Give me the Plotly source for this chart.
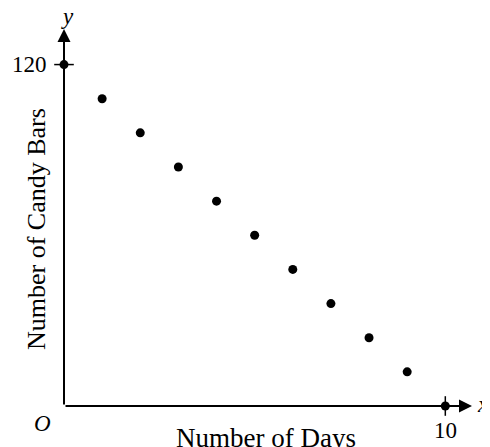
import plotly.graph_objects as go

days = [1, 2, 3, 4, 5, 6, 7, 8, 9]
candy_bars = [108, 96, 84, 72, 60, 48, 36, 24, 12]
axis_points_x = [0, 10]
axis_points_y = [120, 0]

X_MAX = 10.7
Y_MAX = 132.5
FONT = "Liberation Serif, Times New Roman, serif"

fig = go.Figure()

fig.add_trace(go.Scatter(
    x=days, y=candy_bars, mode="markers",
    marker=dict(color="black", size=9),
    showlegend=False, cliponaxis=False
))
# marked points on the axes, with little cross ticks
fig.add_trace(go.Scatter(
    x=axis_points_x, y=axis_points_y, mode="markers",
    marker=dict(color="black", size=14, symbol=["line-ew-open", "line-ns-open"],
                line=dict(width=1.5, color="black")),
    showlegend=False, cliponaxis=False
))
fig.add_trace(go.Scatter(
    x=axis_points_x, y=axis_points_y, mode="markers",
    marker=dict(color="black", size=9),
    showlegend=False, cliponaxis=False
))

# axis arrows
for tip in [(0, Y_MAX), (X_MAX, 0)]:
    fig.add_annotation(
        x=tip[0], y=tip[1], ax=0, ay=0, xref="x", yref="y",
        axref="x", ayref="y", showarrow=True, arrowhead=2,
        arrowsize=1.3, arrowwidth=2, arrowcolor="black", text=""
    )

labels = [
    dict(x=0, y=Y_MAX, text="<i>y</i>", xanchor="center", yanchor="bottom", xshift=3, yshift=-2),
    dict(x=X_MAX, y=0, text="<i>x</i>", xanchor="left", yanchor="middle", xshift=3, yshift=2),
    dict(x=0, y=0, text="<i>O</i>", xanchor="center", yanchor="middle", xshift=-22, yshift=-17),
    dict(x=10, y=0, text="10", xanchor="center", yanchor="middle", xshift=0, yshift=-24),
    dict(x=0, y=120, text="120", xanchor="right", yanchor="middle", xshift=-15),
]
for lab in labels:
    fig.add_annotation(showarrow=False, xref="x", yref="y",
                       font=dict(family=FONT, size=23, color="black"), **lab)

fig.add_annotation(x=0.495, y=-0.085, xref="paper", yref="paper", showarrow=False,
                   text="Number of Days", xanchor="center", yanchor="middle",
                   font=dict(family=FONT, size=27, color="black"))
fig.add_annotation(x=-0.069, y=0.469, xref="paper", yref="paper", showarrow=False,
                   text="Number of Candy Bars", textangle=-90,
                   xanchor="center", yanchor="middle",
                   font=dict(family=FONT, size=26, color="black"))

fig.update_xaxes(range=[0, X_MAX], visible=False)
fig.update_yaxes(range=[0, Y_MAX], visible=False)

fig.update_layout(
    width=482, height=439,
    margin=dict(l=56, r=18, t=21, b=41),
    plot_bgcolor="white", paper_bgcolor="white",
)

fig.write_html("out.html")
